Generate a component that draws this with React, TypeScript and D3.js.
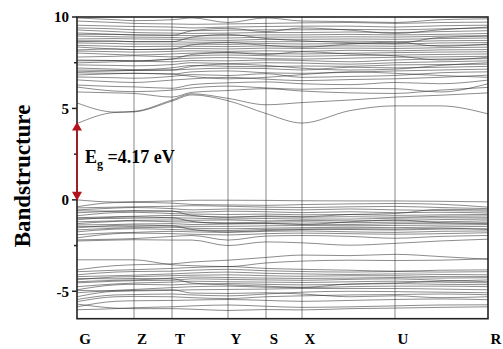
import React from 'react';
import * as d3 from 'd3';

// k-path: high symmetry points and sampled points in between (path distance)
const kPath = [0, 38, 57, 95, 115, 151, 189, 225, 273, 318, 363, 411];
const kLabels = ['G', 'Z', 'T', 'Y', 'S', 'X', 'U', 'R'];
const kLabelPos = [0, 57, 95, 151, 189, 225, 318, 411];

const yTicks = [10, 5, 0, -5];
const yMinorTicks = [7.5, 2.5, -2.5];
const gap = 4.17;

// conduction bands (eV)
const conductionLow = [
  [4.17, 4.78, 4.81, 5.40, 5.74, 5.42, 4.72, 4.20, 4.88, 5.14, 5.14, 4.70],
  [5.30, 4.80, 4.84, 5.46, 5.80, 5.55, 5.20, 5.32, 5.46, 5.62, 5.72, 5.85],
  [5.90, 5.85, 5.82, 5.62, 5.88, 5.98, 6.08, 5.95, 5.85, 5.82, 6.00, 6.15],
  [6.17, 5.95, 5.92, 6.00, 6.12, 6.22, 6.12, 6.05, 6.10, 6.08, 5.90, 6.35],
  [6.28, 6.20, 6.18, 6.10, 6.30, 6.40, 6.45, 6.35, 6.30, 6.42, 6.35, 6.55],
];

const conductionDense = [
  [6.56, 6.45, 6.42, 6.55, 6.62, 6.70, 6.60, 6.52, 6.58, 6.62, 6.70, 6.82],
  [6.72, 6.68, 6.65, 6.75, 6.85, 6.80, 6.90, 6.70, 6.75, 6.80, 6.95, 7.00],
  [6.83, 6.90, 6.92, 6.88, 7.00, 7.05, 6.95, 6.92, 6.98, 7.05, 7.10, 7.15],
  [7.00, 7.05, 7.08, 7.10, 7.15, 7.20, 7.18, 7.10, 7.25, 7.22, 7.25, 7.30],
  [7.21, 7.15, 7.12, 7.22, 7.35, 7.30, 7.28, 7.32, 7.30, 7.38, 7.40, 7.42],
  [7.38, 7.35, 7.33, 7.40, 7.50, 7.45, 7.50, 7.48, 7.42, 7.50, 7.55, 7.60],
  [7.49, 7.55, 7.58, 7.55, 7.62, 7.60, 7.65, 7.62, 7.55, 7.65, 7.70, 7.72],
  [7.65, 7.62, 7.60, 7.70, 7.75, 7.78, 7.72, 7.70, 7.75, 7.80, 7.82, 7.85],
  [7.81, 7.85, 7.88, 7.82, 7.88, 7.92, 7.88, 7.85, 7.90, 7.92, 7.95, 7.98],
  [8.03, 7.95, 7.92, 7.98, 8.02, 8.05, 8.00, 7.98, 8.02, 8.05, 8.08, 8.10],
  [8.14, 8.10, 8.08, 8.12, 8.15, 8.12, 8.15, 8.12, 8.18, 8.15, 8.20, 8.22],
  [8.36, 8.25, 8.22, 8.25, 8.28, 8.25, 8.30, 8.28, 8.30, 8.28, 8.32, 8.35],
  [8.45, 8.40, 8.38, 8.40, 8.40, 8.38, 8.42, 8.40, 8.42, 8.40, 8.45, 8.48],
  [8.58, 8.55, 8.52, 8.52, 8.52, 8.50, 8.55, 8.52, 8.55, 8.52, 8.58, 8.60],
  [8.70, 8.68, 8.65, 8.65, 8.62, 8.62, 8.65, 8.65, 8.68, 8.65, 8.70, 8.72],
  [8.80, 8.82, 8.80, 8.78, 8.75, 8.72, 8.78, 8.78, 8.80, 8.78, 8.82, 8.85],
  [8.96, 8.92, 8.90, 8.88, 8.85, 8.85, 8.90, 8.90, 8.92, 8.90, 8.95, 8.98],
  [9.13, 9.05, 9.02, 9.00, 8.98, 8.98, 9.02, 9.02, 9.05, 9.02, 9.05, 9.10],
  [9.29, 9.20, 9.15, 9.12, 9.10, 9.12, 9.15, 9.15, 9.18, 9.15, 9.20, 9.25],
  [9.40, 9.35, 9.30, 9.28, 9.25, 9.28, 9.30, 9.30, 9.32, 9.30, 9.35, 9.40],
  [9.55, 9.50, 9.48, 9.45, 9.40, 9.45, 9.48, 9.50, 9.50, 9.45, 9.52, 9.55],
  [9.78, 9.70, 9.65, 9.62, 9.60, 9.62, 9.65, 9.68, 9.70, 9.65, 9.70, 9.72],
  [9.95, 9.85, 9.80, 9.85, 9.95, 9.70, 9.95, 9.78, 9.75, 9.70, 9.85, 9.90],
  // split bands, degenerate near G-T
  [7.10, 7.08, 7.08, 7.10, 7.30, 7.42, 7.35, 7.20, 7.10, 7.15, 7.35, 7.50],
  [7.60, 7.62, 7.60, 7.70, 7.95, 8.05, 7.95, 8.10, 7.98, 7.88, 7.65, 7.80],
  [8.20, 8.25, 8.22, 8.25, 8.48, 8.60, 8.45, 8.35, 8.52, 8.62, 8.40, 8.52],
  [8.65, 8.68, 8.65, 8.65, 8.90, 9.05, 8.82, 8.70, 8.60, 8.55, 8.88, 8.95],
  [9.05, 9.05, 9.02, 9.00, 9.25, 9.38, 9.20, 9.40, 9.28, 9.10, 9.30, 9.45],
  [6.95, 6.92, 6.92, 6.88, 6.75, 6.62, 6.70, 6.85, 7.00, 6.92, 6.80, 6.70],
];

// valence bands, upper group
const valenceUpper = [
  [0.00, -0.12, -0.10, -0.06, -0.02, -0.02, -0.03, -0.05, -0.06, -0.06, -0.08, -0.11],
  [-0.38, -0.15, -0.14, -0.18, -0.25, -0.28, -0.30, -0.26, -0.22, -0.20, -0.24, -0.40],
  [-0.44, -0.40, -0.38, -0.35, -0.32, -0.35, -0.40, -0.42, -0.38, -0.36, -0.42, -0.48],
  [-0.55, -0.45, -0.42, -0.48, -0.55, -0.50, -0.52, -0.55, -0.50, -0.55, -0.58, -0.62],
  [-0.71, -0.62, -0.60, -0.62, -0.68, -0.62, -0.65, -0.70, -0.65, -0.70, -0.68, -0.72],
  [-0.87, -0.70, -0.68, -0.75, -0.78, -0.80, -0.78, -0.82, -0.80, -0.85, -0.82, -0.80],
  [-0.98, -0.92, -0.90, -0.85, -0.88, -0.95, -0.92, -0.95, -0.92, -0.95, -0.90, -0.88],
  [-1.09, -0.95, -0.93, -0.98, -1.00, -1.05, -1.02, -1.05, -1.05, -1.00, -0.98, -0.98],
  [-1.20, -1.15, -1.12, -1.10, -1.12, -1.10, -1.15, -1.12, -1.15, -1.12, -1.08, -1.05],
  [-1.30, -1.18, -1.15, -1.20, -1.22, -1.25, -1.22, -1.20, -1.25, -1.22, -1.20, -1.15],
  [-1.37, -1.35, -1.32, -1.30, -1.35, -1.32, -1.30, -1.32, -1.35, -1.30, -1.28, -1.25],
  [-1.53, -1.40, -1.38, -1.42, -1.45, -1.45, -1.42, -1.40, -1.42, -1.40, -1.38, -1.35],
  [-1.64, -1.55, -1.52, -1.50, -1.55, -1.58, -1.55, -1.52, -1.50, -1.52, -1.48, -1.45],
  [-1.75, -1.60, -1.58, -1.62, -1.65, -1.68, -1.62, -1.60, -1.62, -1.65, -1.60, -1.58],
  [-1.91, -1.80, -1.78, -1.72, -1.75, -1.78, -1.72, -1.70, -1.75, -1.78, -1.72, -1.70],
  [-2.08, -1.85, -1.82, -1.85, -1.88, -1.92, -1.85, -1.82, -1.85, -1.88, -1.85, -1.80],
  [-2.19, -2.15, -2.12, -2.00, -1.95, -2.20, -1.98, -1.95, -2.00, -2.10, -2.00, -1.95],
  [-2.25, -2.20, -2.18, -2.20, -2.20, -2.50, -2.30, -2.35, -2.48, -2.38, -2.25, -2.15],
  [-0.60, -0.62, -0.60, -0.62, -0.85, -0.95, -0.88, -0.92, -0.80, -0.75, -0.52, -0.55],
  [-1.00, -1.02, -1.00, -0.98, -1.18, -1.30, -1.28, -1.35, -1.20, -1.10, -1.25, -1.30],
  [-1.45, -1.48, -1.45, -1.42, -1.62, -1.75, -1.68, -1.62, -1.58, -1.60, -1.55, -1.62],
];

// valence bands, lower group
const valenceLower = [
  [-3.28, -3.28, -3.28, -3.55, -3.60, -3.65, -3.45, -3.35, -3.30, -3.32, -3.30, -3.22],
  [-3.83, -3.60, -3.55, -3.50, -3.40, -3.30, -3.15, -3.02, -3.05, -2.98, -3.10, -3.25],
  [-3.93, -3.85, -3.82, -3.75, -3.70, -3.65, -3.75, -3.80, -3.85, -3.90, -3.85, -3.83],
  [-4.10, -3.95, -3.92, -3.90, -3.85, -3.80, -3.88, -3.92, -3.95, -3.92, -3.95, -3.93],
  [-4.20, -4.15, -4.12, -4.05, -4.00, -3.95, -4.02, -4.05, -4.08, -4.05, -4.08, -4.10],
  [-4.37, -4.22, -4.20, -4.15, -4.12, -4.10, -4.15, -4.18, -4.15, -4.15, -4.20, -4.20],
  [-4.48, -4.40, -4.38, -4.28, -4.22, -4.25, -4.28, -4.30, -4.28, -4.25, -4.28, -4.26],
  [-4.54, -4.45, -4.42, -4.40, -4.32, -4.35, -4.38, -4.40, -4.35, -4.32, -4.40, -4.48],
  [-4.75, -4.60, -4.55, -4.50, -4.45, -4.48, -4.50, -4.52, -4.48, -4.45, -4.50, -4.54],
  [-4.92, -4.65, -4.62, -4.65, -4.60, -4.58, -4.62, -4.65, -4.62, -4.58, -4.62, -4.64],
  [-5.08, -4.95, -4.90, -4.80, -4.75, -4.72, -4.78, -4.80, -4.75, -4.72, -4.72, -4.75],
  [-5.30, -5.00, -4.98, -4.95, -4.92, -4.90, -4.88, -4.85, -4.85, -4.85, -4.88, -4.92],
  [-5.45, -5.20, -5.18, -5.15, -5.20, -5.25, -5.15, -5.05, -5.00, -5.02, -5.05, -5.08],
  [-5.57, -5.30, -5.28, -5.30, -5.35, -5.40, -5.30, -5.25, -5.20, -5.18, -5.15, -5.19],
  [-5.85, -5.55, -5.52, -5.50, -5.48, -5.45, -5.50, -5.55, -5.50, -5.45, -5.42, -5.46],
  [-6.01, -5.95, -5.90, -5.85, -5.80, -5.75, -5.82, -5.88, -5.85, -5.80, -5.75, -5.74],
  [-5.70, -5.92, -5.95, -5.95, -5.98, -6.05, -6.00, -6.02, -5.95, -5.92, -5.88, -5.85],
  [-4.30, -4.32, -4.30, -4.32, -4.55, -4.65, -4.72, -4.78, -4.60, -4.55, -4.45, -4.38],
  [-4.95, -4.98, -4.95, -4.92, -5.10, -5.12, -5.08, -5.15, -5.30, -5.25, -5.35, -5.30],
];

const allBands = [...conductionLow, ...conductionDense, ...valenceUpper, ...valenceLower];

const W = 503;
const H = 349;
const margin = { top: 17, right: 15, bottom: 30, left: 77 };
const serif = '"Liberation Serif", "Times New Roman", serif';

export default function App() {
  const x = d3.scaleLinear()
    .domain([0, 411])
    .range([margin.left, W - margin.right]);
  const y = d3.scaleLinear()
    .domain([-6.5, 10])
    .range([H - margin.bottom - 0.3, margin.top]);

  const line = d3.line<number>()
    .x((d, i) => x(kPath[i]))
    .y(d => y(d))
    .curve(d3.curveMonotoneX);

  const x0 = x(0);
  const x1 = x(411);
  const yTop = y(10);
  const yBot = y(-6.5);
  const red = '#b3141b';

  return (
    <svg width={W} height={H} style={{ position: 'absolute', left: 0, top: 0 }}>
      <defs>
        <clipPath id="plot">
          <rect x={x0} y={yTop} width={x1 - x0} height={yBot - yTop} />
        </clipPath>
      </defs>
      <rect width={W} height={H} fill="#fff" />

      {/* k-point separators */}
      {kLabelPos.slice(1, -1).map(k => (
        <line key={k} x1={x(k)} x2={x(k)} y1={yTop} y2={yBot} stroke="#888" strokeWidth={1} />
      ))}

      <g clipPath="url(#plot)">
        {allBands.map((b, i) => (
          <path key={i} d={line(b) || ''} fill="none" stroke="#222" strokeWidth={0.7} strokeOpacity={0.75} />
        ))}
      </g>

      {/* frame */}
      <rect x={x0} y={yTop} width={x1 - x0} height={yBot - yTop} fill="none" stroke="#222" strokeWidth={1.6} />

      {/* y ticks */}
      {yTicks.map(t => (
        <g key={t}>
          <line x1={x0 - 5} x2={x0} y1={y(t)} y2={y(t)} stroke="#222" strokeWidth={1.5} />
          <text x={x0 - 8} y={y(t)} dy="0.35em" textAnchor="end" fontFamily={serif} fontWeight="bold" fontSize={15}>{t}</text>
        </g>
      ))}
      {yMinorTicks.map(t => (
        <line key={t} x1={x0 - 3} x2={x0} y1={y(t)} y2={y(t)} stroke="#222" strokeWidth={1.5} />
      ))}

      {/* k labels */}
      {kLabels.map((l, i) => (
        <text key={l} x={x(kLabelPos[i]) + 8} y={344} textAnchor="middle" fontFamily={serif} fontWeight="bold" fontSize={15}>{l}</text>
      ))}

      <text transform={`translate(30,${176}) rotate(-90)`} textAnchor="middle" fontFamily={serif} fontWeight="bold" fontSize={23}>Bandstructure</text>

      {/* band gap arrow */}
      <line x1={x0} x2={x0} y1={y(gap) + 6} y2={y(0) - 6} stroke={red} strokeWidth={1.5} />
      <path d={`M${x0},${y(gap) - 1.5} L${x0 - 5},${y(gap) + 7} L${x0 + 5},${y(gap) + 7} Z`} fill={red} />
      <path d={`M${x0},${y(0) + 1} L${x0 - 5},${y(0) - 8} L${x0 + 5},${y(0) - 8} Z`} fill={red} />
      <text x={85} y={163} fontFamily={serif} fontWeight="bold" fontSize={18}>
        E<tspan dy={5} fontSize={12}>g</tspan><tspan dy={-5}> =4.17 eV</tspan>
      </text>
    </svg>
  );
}
